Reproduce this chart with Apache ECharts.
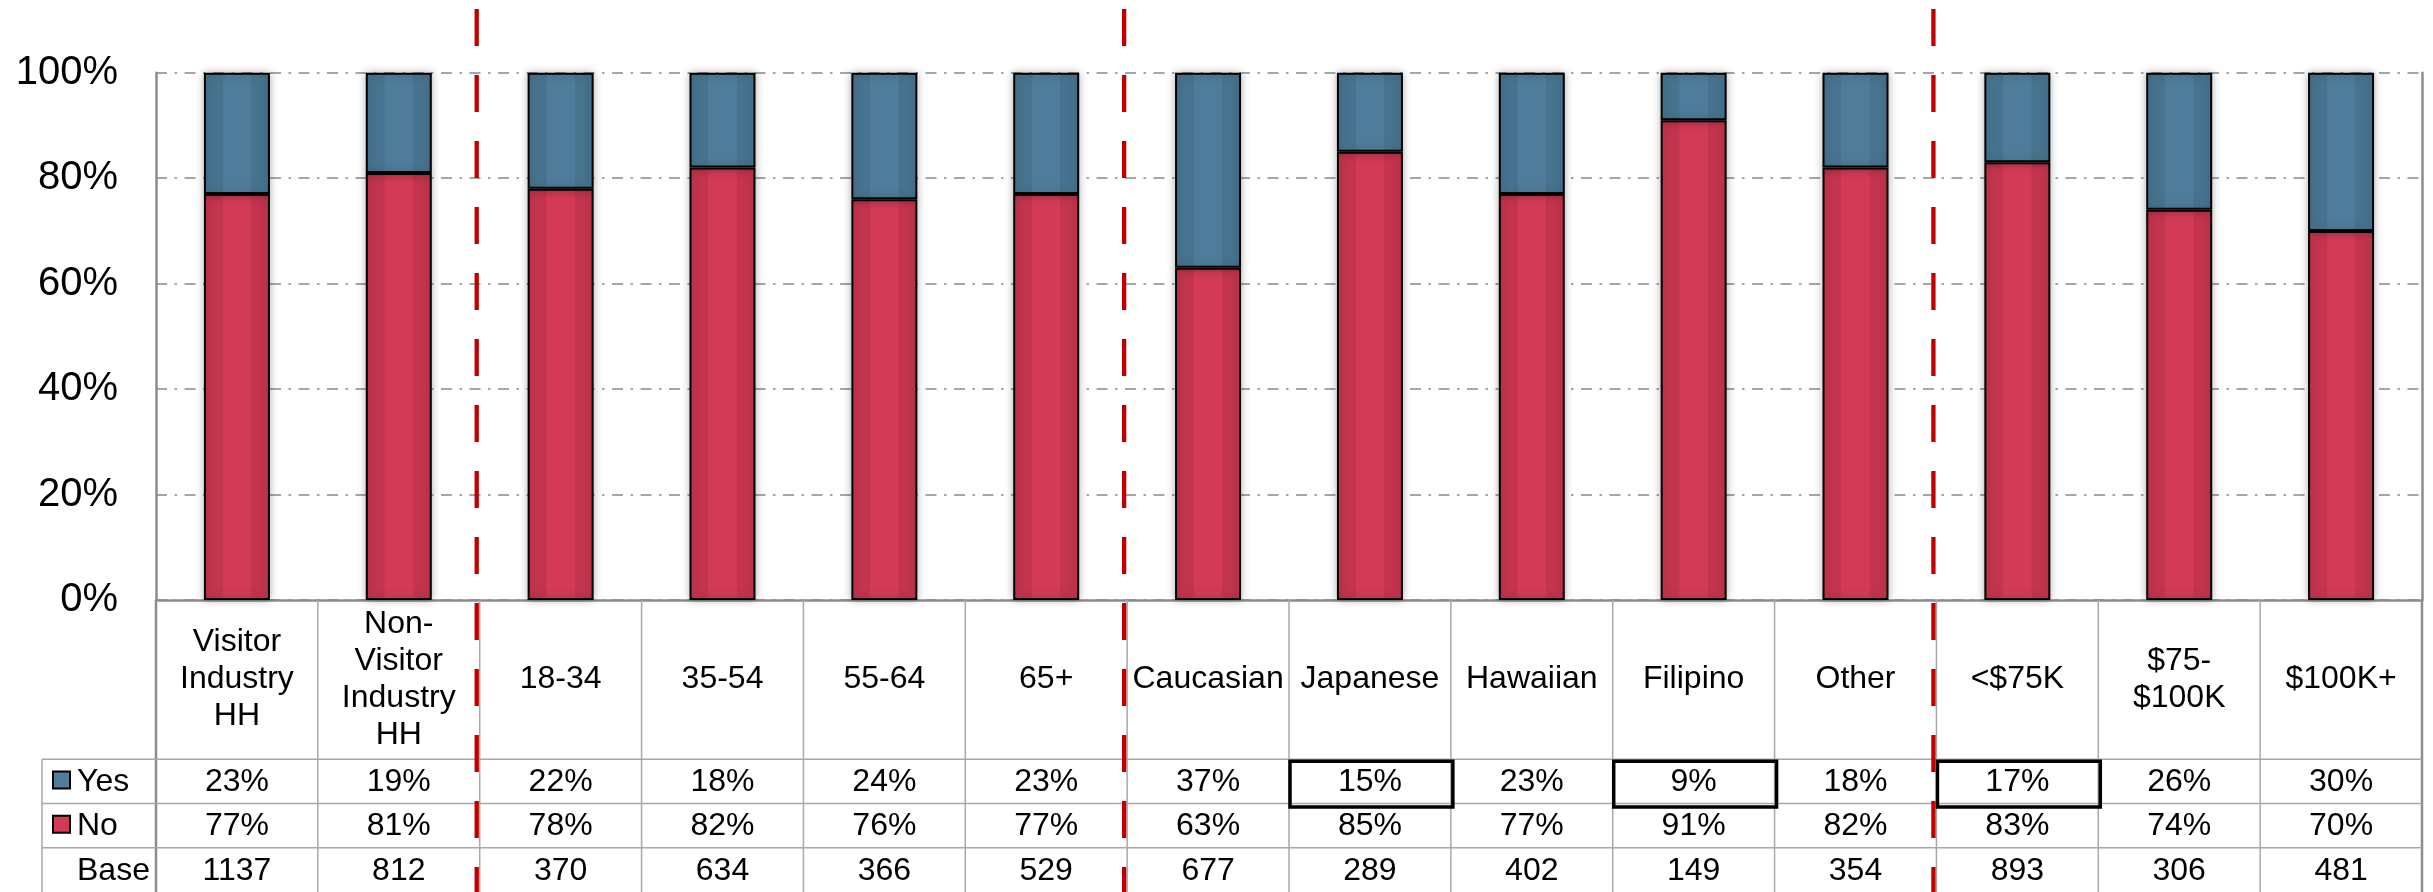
<!DOCTYPE html>
<html>
<head>
<meta charset="utf-8">
<style>
  html, body { margin: 0; padding: 0; background: #fff; }
  #chart { width: 2433px; height: 892px; }
</style>
<script src="https://cdn.jsdelivr.net/npm/echarts@6/dist/echarts.min.js"></script>
</head>
<body>
<div id="chart"></div>
<script>
// Segments shown along the x axis (header text of the data table)
const categories = [
  'Visitor\nIndustry\nHH', 'Non-\nVisitor\nIndustry\nHH',
  '18-34', '35-54', '55-64', '65+',
  'Caucasian', 'Japanese', 'Hawaiian', 'Filipino', 'Other',
  '<$75K', '$75-\n$100K', '$100K+'
];
// Share answering "Yes" / "No" (percent)
const yesPct = [23, 19, 22, 18, 24, 23, 37, 15, 23, 9, 18, 17, 26, 30];
const noPct  = [77, 81, 78, 82, 76, 77, 63, 85, 77, 91, 82, 83, 74, 70];
// Sample size of each segment
const baseCounts = [1137, 812, 370, 634, 366, 529, 677, 289, 402, 149, 354, 893, 306, 481];
// Row labels of the data table
const rowLabels = ['Yes', 'No', 'Base'];
// Y-axis ticks (percent)
const yTicks = [0, 20, 40, 60, 80, 100];
// Segments whose "Yes" cell is boxed
const boxedYes = ['Japanese', 'Filipino', '<$75K'];
// Index of the last category in each group, followed by a red divider
const groupEnds = [1, 5, 10];

const FONT = '"Liberation Sans", Arial, sans-serif';
const TXT = 32;
const RED = '#D23A56', RED_DARK = '#C3344E';
const BLUE = '#4E7C9A', BLUE_DARK = '#47738F';
const GRID_GRAY = '#A6A6A6', AXIS_GRAY = '#8C8C8C', CELL_GRAY = '#A8A8A8';

function stripes(base, dark) {
  return {
    type: 'linear', x: 0, y: 0, x2: 1, y2: 0,
    colorStops: [
      { offset: 0, color: dark }, { offset: 0.28, color: dark },
      { offset: 0.29, color: base }, { offset: 0.71, color: base },
      { offset: 0.72, color: dark }, { offset: 1, color: dark }
    ]
  };
}

// Header text, cell values, table rules, legend keys and group dividers
function renderTable(params, api) {
  const i = api.value(0);
  const center = api.coord([i, 0]);
  const bw = api.size([1, 0])[0];
  const cx = center[0];
  const x0 = cx - bw / 2, x1 = cx + bw / 2;
  const y = k => api.coord([i, k])[1];
  const yTop = y(6.6), yYes = y(3), yNo = y(2), yBase = y(1), yBot = y(0);
  const kids = [];
  const line = (ax, ay, bx, by, stroke, w) => kids.push({
    type: 'line', shape: { x1: ax, y1: ay, x2: bx, y2: by },
    style: { stroke: stroke, lineWidth: w }, z2: 1
  });
  const text = (t, tx, ty, align) => kids.push({
    type: 'text', x: tx, y: ty, z2: 5,
    style: { text: t, fill: '#000', fontSize: TXT, fontFamily: FONT,
             align: align || 'center', verticalAlign: 'middle', lineHeight: 37 }
  });

  // vertical rules
  line(x0, yTop, x0, yBot, i === 0 ? AXIS_GRAY : CELL_GRAY, i === 0 ? 2.5 : 1.5);
  if (i === categories.length - 1) line(x1, yTop, x1, yBot, AXIS_GRAY, 2.5);
  // horizontal rules
  [yYes, yNo, yBase].forEach(yy => line(x0, yy, x1, yy, CELL_GRAY, 1.5));

  text(categories[i], cx, (yTop + yYes) / 2);
  text(yesPct[i] + '%', cx, (yYes + yNo) / 2 + 1);
  text(noPct[i] + '%', cx, (yNo + yBase) / 2 + 1);
  text(String(baseCounts[i]), cx, (yBase + yBot) / 2 + 1);

  // row-label column with legend keys
  if (i === 0) {
    const lx = x0 - 114;
    line(lx, yYes, lx, yBot, CELL_GRAY, 1.5);
    [yYes, yNo, yBase].forEach(yy => line(lx, yy, x0, yy, CELL_GRAY, 1.5));
    const rows = [[yYes, yNo, BLUE], [yNo, yBase, RED], [yBase, yBot, null]];
    rows.forEach((r, k) => {
      const mid = (r[0] + r[1]) / 2;
      if (r[2]) {
        kids.push({ type: 'rect', z2: 4,
          shape: { x: lx + 11, y: mid - 10, width: 17, height: 17 },
          style: { fill: r[2], stroke: '#000', lineWidth: 2 } });
      }
      text(rowLabels[k], lx + 35, mid + 1, 'left');
    });
  }

  if (boxedYes.indexOf(categories[i]) >= 0) {
    kids.push({ type: 'rect', z2: 6,
      shape: { x: x0 + 1, y: yYes + 2, width: bw + 1, height: (yNo - yYes) + 1.5 },
      style: { fill: null, stroke: '#000', lineWidth: 3.5 } });
  }

  if (groupEnds.indexOf(i) >= 0) {
    kids.push({ type: 'line', z2: 8,
      shape: { x1: x1 - 3, y1: 9, x2: x1 - 3, y2: yBot },
      style: { stroke: '#C00000', lineWidth: 4.3, lineDash: [37, 29] } });
  }
  return { type: 'group', children: kids };
}

const chart = echarts.init(document.getElementById('chart'), null, { renderer: 'canvas' });

chart.setOption({
  animation: false,
  backgroundColor: '#fff',
  grid: [
    { left: 156, right: 11, top: 72.7, height: 527.3 },
    { left: 156, right: 11, top: 600, height: 294 }
  ],
  xAxis: [
    { type: 'category', gridIndex: 0, data: categories,
      axisLine: { show: true, lineStyle: { color: AXIS_GRAY, width: 2.5 } },
      axisTick: { show: false }, axisLabel: { show: false }, splitLine: { show: false } },
    { type: 'category', gridIndex: 1, data: categories, show: false }
  ],
  yAxis: [
    { type: 'value', gridIndex: 0, min: yTicks[0], max: yTicks[yTicks.length - 1],
      interval: yTicks[1] - yTicks[0],
      axisLine: { show: true, lineStyle: { color: AXIS_GRAY, width: 2.5 } },
      axisTick: { show: false },
      axisLabel: { formatter: '{value}%', color: '#000', fontSize: 40, fontFamily: FONT, margin: 38 },
      splitLine: { show: true, lineStyle: { color: GRID_GRAY, width: 2, type: [11, 7.5, 2.5, 7.5] } } },
    { type: 'value', gridIndex: 0, position: 'right', min: 0, max: 100, interval: 20,
      axisLine: { show: true, lineStyle: { color: AXIS_GRAY, width: 2.5 } },
      axisTick: { show: false }, axisLabel: { show: false }, splitLine: { show: false } },
    { type: 'value', gridIndex: 1, min: 0, max: 6.6, show: false }
  ],
  series: [
    { name: 'No', type: 'bar', stack: 'share', xAxisIndex: 0, yAxisIndex: 0,
      barWidth: 66, data: noPct, z: 3,
      itemStyle: { color: stripes(RED, RED_DARK), borderColor: '#000', borderWidth: 2,
                   shadowBlur: 8, shadowColor: 'rgba(0,0,0,0.28)' } },
    { name: 'Yes', type: 'bar', stack: 'share', xAxisIndex: 0, yAxisIndex: 0,
      barWidth: 66, data: yesPct, z: 3,
      itemStyle: { color: stripes(BLUE, BLUE_DARK), borderColor: '#000', borderWidth: 2,
                   shadowBlur: 8, shadowColor: 'rgba(0,0,0,0.28)' } },
    { name: 'table', type: 'custom', xAxisIndex: 1, yAxisIndex: 2, clip: false, z: 5,
      data: categories.map((c, i) => [i]), encode: { x: 0 },
      renderItem: renderTable, silent: true }
  ]
});
</script>
</body>
</html>
